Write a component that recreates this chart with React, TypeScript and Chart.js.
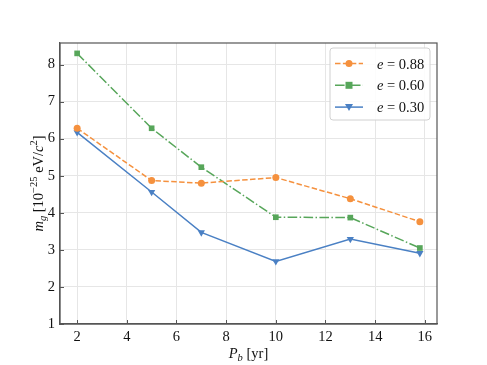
import React, { useEffect, useRef } from "react";
import { Chart, registerables } from "chart.js";

Chart.register(...registerables);

const periods = [2, 5, 7, 10, 13, 15.8];
const mgE088 = [6.28, 4.87, 4.8, 4.95, 4.38, 3.76];
const mgE060 = [8.3, 6.28, 5.23, 3.88, 3.87, 3.05];
const mgE030 = [6.17, 4.56, 3.47, 2.69, 3.29, 2.91];
const seriesLabels = ["0.88", "0.60", "0.30"];
const xTicks = [2, 4, 6, 8, 10, 12, 14, 16];
const yTicks = [1, 2, 3, 4, 5, 6, 7, 8];

const ORANGE = "#f5913e";
const GREEN = "#57a65a";
const BLUE = "#4a80c4";
const SERIF = "'Liberation Serif', 'Times New Roman', serif";
const FS = 14.5;

type Run = { t: string; italic?: boolean; size?: number; dy?: number };

function drawRuns(ctx: CanvasRenderingContext2D, runs: Run[], x: number, y: number, align: "center" | "left") {
  const widths = runs.map((r) => {
    ctx.font = `${r.italic ? "italic " : ""}${r.size ?? FS}px ${SERIF}`;
    return ctx.measureText(r.t).width;
  });
  const total = widths.reduce((a, b) => a + b, 0);
  let cx = align === "center" ? x - total / 2 : x;
  ctx.textAlign = "left";
  ctx.textBaseline = "alphabetic";
  runs.forEach((r, i) => {
    ctx.font = `${r.italic ? "italic " : ""}${r.size ?? FS}px ${SERIF}`;
    ctx.fillText(r.t, cx, y + (r.dy ?? 0));
    cx += widths[i];
  });
}

const decorPlugin = {
  id: "decor",
  afterDraw(chart: any) {
    const ctx: CanvasRenderingContext2D = chart.ctx;
    const { left, right, top, bottom } = chart.chartArea;
    const xs = chart.scales.x;
    const ys = chart.scales.y;
    ctx.save();
    // frame
    ctx.strokeStyle = "#555555";
    ctx.lineWidth = 1.2;
    ctx.strokeRect(left, top, right - left, bottom - top);
    // inward ticks
    ctx.lineWidth = 1;
    ctx.beginPath();
    yTicks.forEach((v) => {
      const py = Math.round(ys.getPixelForValue(v)) + 0.5;
      ctx.moveTo(left, py);
      ctx.lineTo(left + 4, py);
    });
    xTicks.forEach((v) => {
      const px = Math.round(xs.getPixelForValue(v)) + 0.5;
      ctx.moveTo(px, bottom);
      ctx.lineTo(px, bottom - 4);
    });
    ctx.stroke();

    ctx.fillStyle = "#111111";
    // x title
    drawRuns(
      ctx,
      [
        { t: "P", italic: true },
        { t: "b", italic: true, size: 10.5, dy: 3 },
        { t: " [yr]" },
      ],
      (left + right) / 2,
      358,
      "center"
    );
    // y title
    ctx.save();
    ctx.translate(43, (top + bottom) / 2);
    ctx.rotate(-Math.PI / 2);
    drawRuns(
      ctx,
      [
        { t: "m", italic: true },
        { t: "g", italic: true, size: 10.5, dy: 3 },
        { t: " [10" },
        { t: "\u221225", size: 10.5, dy: -6 },
        { t: " eV/" },
        { t: "c", italic: true },
        { t: "2", size: 10.5, dy: -6 },
        { t: "]" },
      ],
      0,
      0,
      "center"
    );
    ctx.restore();

    // legend
    const bx = 330, by = 48, bw = 100, bh = 72;
    ctx.beginPath();
    const r = 3;
    ctx.moveTo(bx + r, by);
    ctx.lineTo(bx + bw - r, by);
    ctx.quadraticCurveTo(bx + bw, by, bx + bw, by + r);
    ctx.lineTo(bx + bw, by + bh - r);
    ctx.quadraticCurveTo(bx + bw, by + bh, bx + bw - r, by + bh);
    ctx.lineTo(bx + r, by + bh);
    ctx.quadraticCurveTo(bx, by + bh, bx, by + bh - r);
    ctx.lineTo(bx, by + r);
    ctx.quadraticCurveTo(bx, by, bx + r, by);
    ctx.closePath();
    ctx.fillStyle = "rgba(255,255,255,0.85)";
    ctx.fill();
    ctx.strokeStyle = "#d0d0d0";
    ctx.lineWidth = 1;
    ctx.stroke();

    const entries = [
      { color: ORANGE, dash: [5.5, 2.4], marker: "circle" },
      { color: GREEN, dash: [9.6, 2.4, 1.5, 2.4], marker: "square" },
      { color: BLUE, dash: [], marker: "tri" },
    ];
    entries.forEach((e, i) => {
      const cy = 63.5 + i * 21.8;
      ctx.strokeStyle = e.color;
      ctx.lineWidth = 1.5;
      ctx.setLineDash(e.dash);
      ctx.beginPath();
      ctx.moveTo(335, cy);
      ctx.lineTo(363, cy);
      ctx.stroke();
      ctx.setLineDash([]);
      ctx.fillStyle = e.color;
      const mx = 349;
      ctx.beginPath();
      if (e.marker === "circle") {
        ctx.arc(mx, cy, 3.5, 0, Math.PI * 2);
      } else if (e.marker === "square") {
        ctx.rect(mx - 3.5, cy - 3.5, 7, 7);
      } else {
        ctx.moveTo(mx - 4, cy - 3);
        ctx.lineTo(mx + 4, cy - 3);
        ctx.lineTo(mx, cy + 4);
        ctx.closePath();
      }
      ctx.fill();
      ctx.fillStyle = "#111111";
      drawRuns(
        ctx,
        [{ t: "e", italic: true }, { t: " = " }, { t: seriesLabels[i] }],
        377,
        cy + 5,
        "left"
      );
    });
    ctx.restore();
  },
};

export default function App() {
  const ref = useRef<HTMLCanvasElement>(null);
  useEffect(() => {
    document.body.style.margin = "0";
    const toPts = (ys: number[]) => periods.map((x, i) => ({ x, y: ys[i] }));
    const chart = new Chart(ref.current!, {
      type: "line",
      data: {
        datasets: [
          {
            label: "e=0.88",
            data: toPts(mgE088),
            borderColor: ORANGE,
            backgroundColor: ORANGE,
            borderWidth: 1.5,
            borderDash: [5.5, 2.4],
            pointStyle: "circle",
            pointRadius: 3.5,
            pointBorderWidth: 0,
          },
          {
            label: "e=0.60",
            data: toPts(mgE060),
            borderColor: GREEN,
            backgroundColor: GREEN,
            borderWidth: 1.5,
            borderDash: [9.6, 2.4, 1.5, 2.4],
            pointStyle: "rect",
            pointRadius: 4,
            pointBorderWidth: 0,
          },
          {
            label: "e=0.30",
            data: toPts(mgE030),
            borderColor: BLUE,
            backgroundColor: BLUE,
            borderWidth: 1.5,
            pointStyle: "triangle",
            pointRotation: 180,
            pointRadius: 4.2,
            pointBorderWidth: 0,
          },
        ],
      },
      options: {
        animation: false,
        responsive: false,
        layout: { padding: { left: 0, top: 43, right: 50, bottom: 0 } },
        plugins: { legend: { display: false }, tooltip: { enabled: false } },
        scales: {
          x: {
            type: "linear",
            min: 1.31,
            max: 16.49,
            afterBuildTicks: (s: any) => {
              s.ticks = xTicks.map((v) => ({ value: v }));
            },
            afterFit: (s: any) => {
              s.height = 41;
            },
            grid: { color: "#e6e6e6", lineWidth: 1, drawTicks: false },
            border: { color: "#555555", width: 1.2 },
            ticks: {
              padding: 4,
              color: "#111111",
              font: { family: SERIF, size: FS },
            },
          },
          y: {
            type: "linear",
            min: 1,
            max: 8.58,
            afterBuildTicks: (s: any) => {
              s.ticks = yTicks.map((v) => ({ value: v }));
            },
            afterFit: (s: any) => {
              s.width = 60;
            },
            grid: { color: "#e6e6e6", lineWidth: 1, drawTicks: false },
            border: { color: "#555555", width: 1.2 },
            ticks: {
              padding: 5,
              color: "#111111",
              font: { family: SERIF, size: FS },
            },
          },
        },
      },
      plugins: [decorPlugin],
    });
    return () => chart.destroy();
  }, []);
  return (
    <div style={{ position: "fixed", left: 0, top: 0, width: 487, height: 365 }}>
      <canvas ref={ref} width={487} height={365} style={{ width: 487, height: 365 }} />
    </div>
  );
}
